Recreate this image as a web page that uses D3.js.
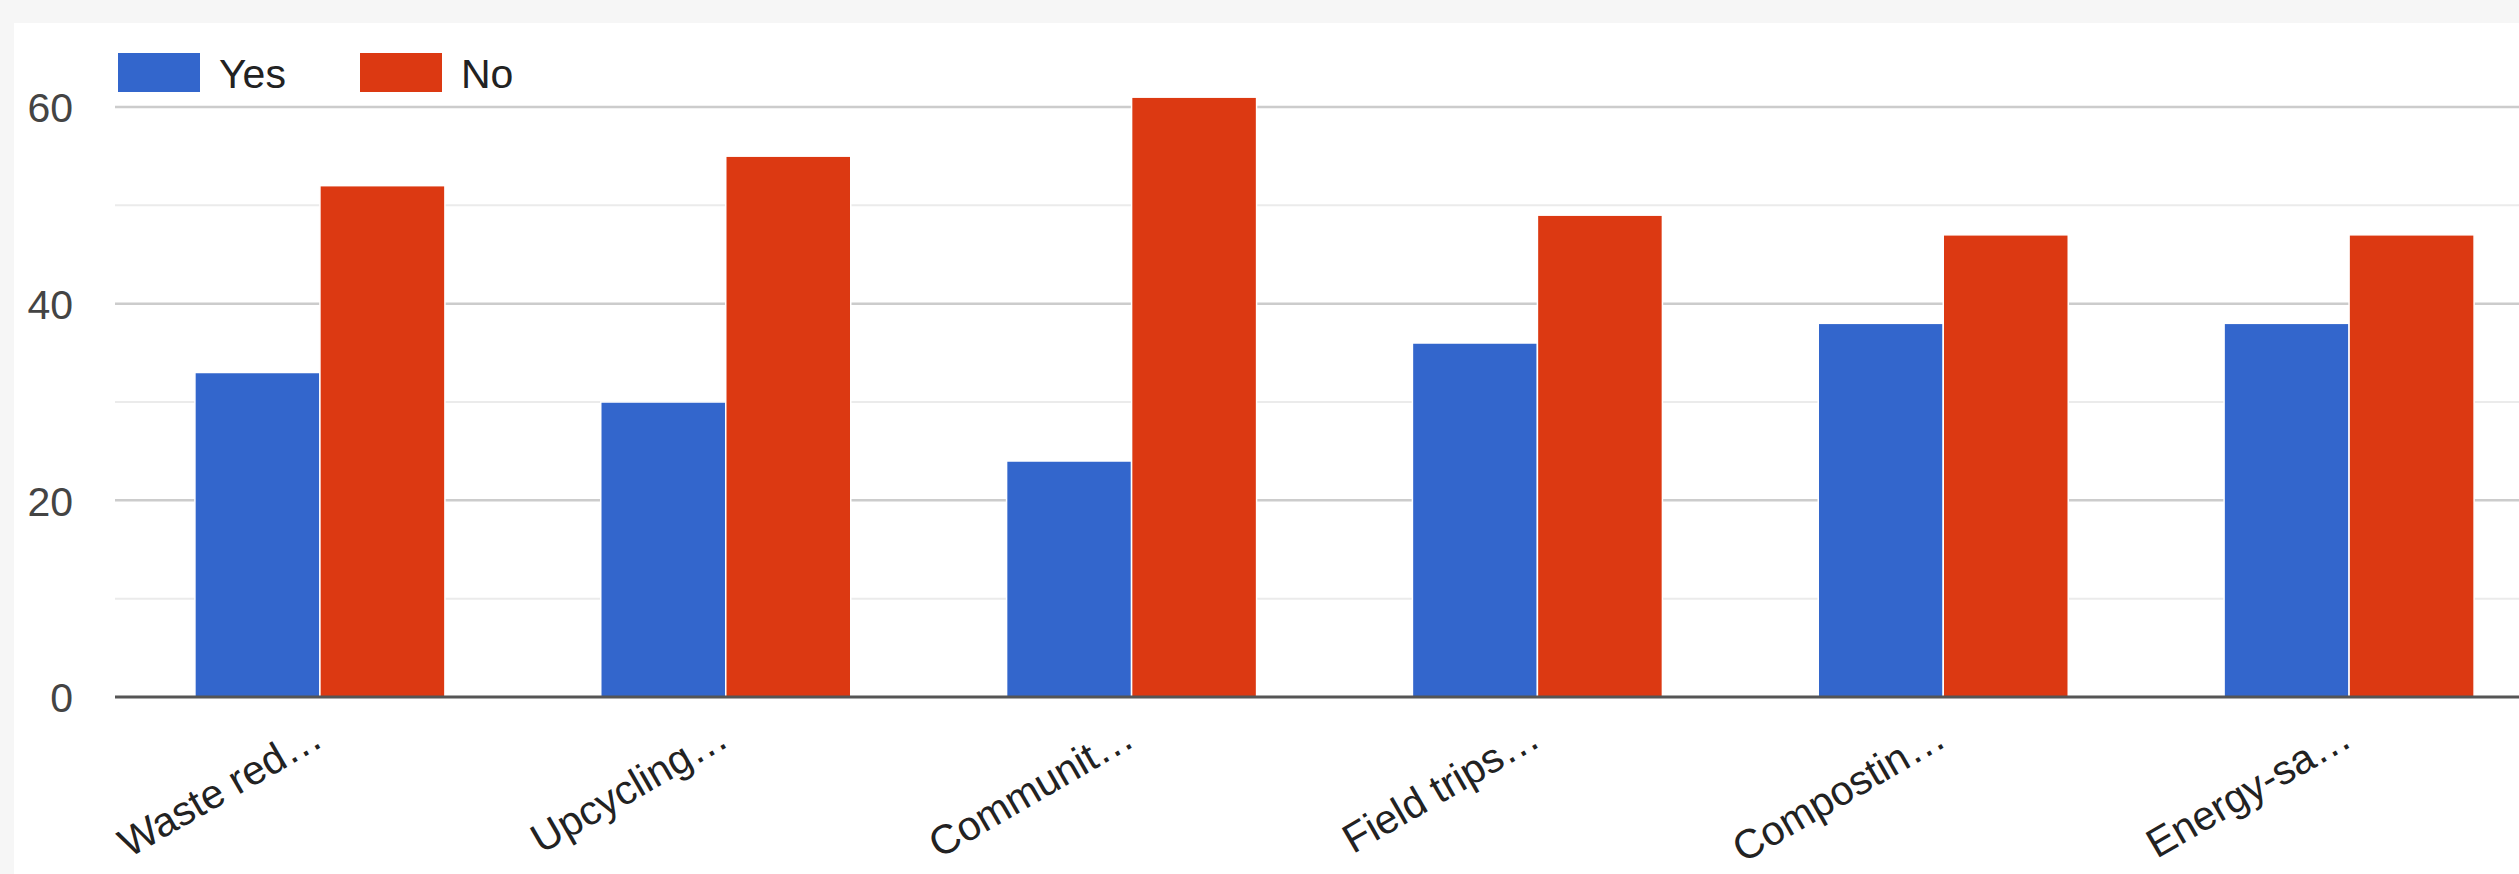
<!DOCTYPE html>
<html>
<head>
<meta charset="utf-8">
<script src="https://cdn.jsdelivr.net/npm/d3@7"></script>
<style>
  html, body { margin: 0; padding: 0; background: #f6f6f6; overflow: hidden; }
  svg { display: block; }
  text { font-family: "Liberation Sans", Arial, sans-serif; }
</style>
</head>
<body>
<svg id="chart" width="2519" height="874"></svg>
<script>
// ---- Data ----
const categories = ["Waste red…", "Upcycling…", "Communit…", "Field trips…", "Compostin…", "Energy-sa…"];
const seriesNames = ["Yes", "No"];
const yesValues = [33, 30, 24, 36, 38, 38];
const noValues = [52, 55, 61, 49, 47, 47];
const seriesColors = ["#3366cc", "#dc3912"];
const yTicks = [0, 20, 40, 60];
const yMinorTicks = [10, 30, 50];

const svg = d3.select("#chart");
const W = 2519, H = 874;

// white panel
svg.append("rect").attr("x", 14).attr("y", 23).attr("width", W - 14).attr("height", H - 23).attr("fill", "#ffffff");

const plotLeft = 115, plotRight = W;
const x0 = d3.scaleBand().domain(categories).range([117, 2552]).paddingInner(0.384).paddingOuter(0.192);
const x1 = d3.scaleBand().domain(seriesNames).range([0, x0.bandwidth()]).padding(0);
const y = d3.scaleLinear().domain([0, 60]).range([697, 107]);

// gridlines
const grid = svg.append("g");
grid.selectAll("line.minor").data(yMinorTicks).join("line")
  .attr("class", "minor")
  .attr("x1", plotLeft).attr("x2", plotRight)
  .attr("y1", d => y(d)).attr("y2", d => y(d))
  .attr("stroke", "#ebebeb").attr("stroke-width", 2);
grid.selectAll("line.major").data(yTicks.filter(d => d !== 0)).join("line")
  .attr("class", "major")
  .attr("x1", plotLeft).attr("x2", plotRight)
  .attr("y1", d => y(d)).attr("y2", d => y(d))
  .attr("stroke", "#cccccc").attr("stroke-width", 2.5);

// y axis labels
const yAxis = d3.axisLeft(y).tickValues(yTicks).tickSize(0).tickPadding(0);
const yg = svg.append("g").attr("transform", `translate(73,0)`).call(yAxis);
yg.select(".domain").remove();
yg.selectAll("text")
  .attr("font-size", 41)
  .attr("fill", "#444444")
  .attr("font-family", "'Liberation Sans', Arial, sans-serif")
  .attr("dy", "0.36em");

// bars
const rows = categories.map((c, i) => ({ cat: c, values: [yesValues[i], noValues[i]] }));
const groups = svg.append("g").selectAll("g").data(rows).join("g")
  .attr("transform", d => `translate(${x0(d.cat)},0)`);
groups.selectAll("rect").data(d => d.values.map((v, j) => ({ key: seriesNames[j], v, j }))).join("rect")
  .attr("x", d => x1(d.key))
  .attr("width", x1.bandwidth())
  .attr("y", d => y(d.v))
  .attr("height", d => y(0) - y(d.v))
  .attr("fill", d => seriesColors[d.j])
  .attr("stroke", "#ffffff")
  .attr("stroke-width", 1.5);

// baseline
svg.append("line")
  .attr("x1", plotLeft).attr("x2", plotRight)
  .attr("y1", y(0)).attr("y2", y(0))
  .attr("stroke", "#555555").attr("stroke-width", 3);

// x labels
const xAxis = d3.axisBottom(x0).tickSize(0);
const xg = svg.append("g").attr("transform", `translate(0,${y(0)})`).call(xAxis);
xg.select(".domain").remove();
xg.selectAll(".tick text")
  .attr("font-size", 41)
  .attr("fill", "#222222")
  .attr("font-family", "'Liberation Sans', Arial, sans-serif")
  .attr("text-anchor", "end")
  .attr("dy", 0)
  .attr("y", 0)
  .attr("transform", "translate(5,48) rotate(-30)");

// legend
const legend = svg.append("g");
const legendX = [118, 360];
seriesNames.forEach((name, j) => {
  legend.append("rect").attr("x", legendX[j]).attr("y", 53).attr("width", 82).attr("height", 39).attr("fill", seriesColors[j]);
  legend.append("text").attr("x", legendX[j] + 101).attr("y", 88)
    .attr("font-size", 41).attr("fill", "#222222").text(name);
});
</script>
</body>
</html>
